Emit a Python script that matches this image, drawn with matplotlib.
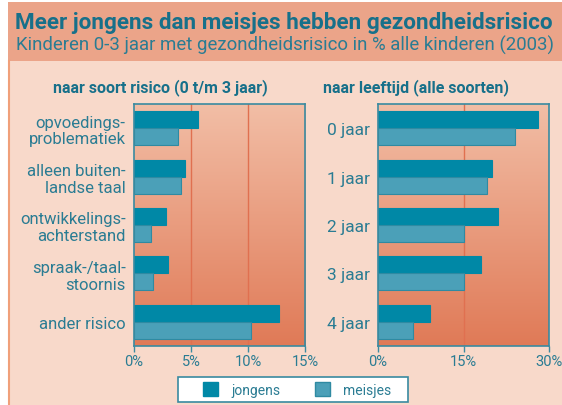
import numpy as np
import matplotlib
matplotlib.use("Agg")
import matplotlib.pyplot as plt
from matplotlib.patches import Rectangle, Patch
from matplotlib.colors import LinearSegmentedColormap

# ---------------- data ----------------
risk_labels = ["opvoedings-\nproblematiek", "alleen buiten-\nlandse taal", "ontwikkelings-\nachterstand",
               "spraak-/taal-\nstoornis", "ander risico"]
risk_boys = [5.6, 4.5, 2.8, 3.0, 12.7]
risk_girls = [3.9, 4.1, 1.5, 1.7, 10.3]

age_labels = ["0 jaar", "1 jaar", "2 jaar", "3 jaar", "4 jaar"]
age_boys = [28.1, 20.0, 21.0, 18.1, 9.1]
age_girls = [24.0, 19.1, 15.1, 15.0, 6.1]

risk_ticks = [0, 5, 10, 15]
age_ticks = [0, 15, 30]
tick_fmt = "{}%"

title = "Meer jongens dan meisjes hebben gezondheidsrisico"
subtitle = "Kinderen 0-3 jaar met gezondheidsrisico in % alle kinderen (2003)"
panel_titles = ["naar soort risico (0 t/m 3 jaar)", "naar leeftijd (alle soorten)"]
series_names = ["jongens", "meisjes"]

# ---------------- style ----------------
W, H = 562, 406
FONT = "Roboto"
C_BOY = "#0088A6"
C_GIRL = "#4BA0B8"
C_GIRL_EDGE = "#2F8AA2"
C_TEXT = "#2A7C93"
C_TITLE = "#17708A"
C_SPINE = "#3A8AA0"
C_GRID = "#E07050"
C_HEADER = "#EBA489"
C_BODY = "#F8D9CA"
C_BORDER = "#F0A07A"

fig = plt.figure(figsize=(W / 100, H / 100), dpi=100)
fig.patch.set_facecolor("white")

def fx(px):
    return px / W

def fy(py):
    return 1 - py / H

# backgrounds
fig.add_artist(Rectangle((fx(8), 0), 1 - fx(8), fy(62), transform=fig.transFigure,
                         facecolor=C_BODY, edgecolor="none", zorder=0))
fig.add_artist(Rectangle((fx(8), fy(62)), 1 - fx(8), fy(3) - fy(62), transform=fig.transFigure,
                         facecolor=C_HEADER, edgecolor="none", zorder=0))
fig.add_artist(plt.Line2D([fx(8.5), fx(8.5)], [0, fy(62)], transform=fig.transFigure,
                          color=C_BORDER, lw=1.5, zorder=1))

fig.text(fx(15), fy(22.5), title, fontsize=16.2, fontweight="bold", color=C_TITLE,
         family=FONT, va="center", ha="left")
fig.text(fx(16), fy(45.5), subtitle, fontsize=13.4, color=C_TEXT,
         family=FONT, va="center", ha="left")

grad_cmap = LinearSegmentedColormap.from_list("bg", ["#F2BEA6", "#E07A57"])

def panel(rect, labels, boys, girls, ticks, grid, ptitle, ptitle_x, label_fs):
    ax = fig.add_axes(rect)
    ax.set_facecolor("none")
    n = len(labels)
    y = np.arange(n)
    h = 0.35
    ax.barh(y - h / 2, boys, height=h, color=C_BOY, edgecolor=C_BOY, lw=0.8, zorder=3)
    ax.barh(y + h / 2, girls, height=h, color=C_GIRL, edgecolor=C_GIRL_EDGE, lw=0.8, zorder=3)
    ax.set_xlim(ticks[0], ticks[-1])
    ax.set_ylim(n - 0.5, -0.5)
    ax.imshow(np.linspace(0, 1, 256).reshape(-1, 1), cmap=grad_cmap, aspect="auto",
              extent=(ticks[0], ticks[-1], n - 0.5, -0.5), zorder=0, interpolation="bilinear")
    for g in grid:
        ax.axvline(g, color=C_GRID, lw=1.0, zorder=1)
    ax.set_xticks(ticks)
    ax.set_xticklabels([tick_fmt.format(t) for t in ticks], fontsize=10.5, color=C_TEXT, family=FONT)
    ax.tick_params(axis="x", direction="out", length=4, width=1, color=C_SPINE, pad=2)
    ax.set_yticks(y)
    ax.set_yticklabels(labels, fontsize=label_fs, color=C_TEXT, family=FONT, linespacing=1.15)
    ax.tick_params(axis="y", length=0, pad=6)
    for s in ax.spines.values():
        s.set_color(C_SPINE)
        s.set_linewidth(1.2)
        s.set_zorder(5)
    fig.text(ptitle_x, fy(88), ptitle, fontsize=11.5, fontweight="bold", color=C_TITLE,
             family=FONT, ha="center", va="center")
    return ax

ax_h = (347 - 105) / H
panel([fx(134), fy(347), fx(171), ax_h], risk_labels, risk_boys, risk_girls,
      risk_ticks, [5, 10], panel_titles[0], fx(160), 12)
panel([fx(378), fy(347), fx(171), ax_h], age_labels, age_boys, age_girls,
      age_ticks, [15], panel_titles[1], fx(416), 12.5)

# legend box
fig.add_artist(Rectangle((fx(178), fy(403)), fx(408) - fx(178), fy(378) - fy(403),
                         transform=fig.transFigure, facecolor="white", edgecolor=C_SPINE,
                         lw=1.2, zorder=2))
handles = [Patch(facecolor=C_BOY, edgecolor=C_BOY), Patch(facecolor=C_GIRL, edgecolor=C_GIRL_EDGE)]
leg = fig.legend(handles, series_names, loc="center", bbox_to_anchor=(fx(297), fy(390.5)),
                 ncol=2, frameon=False, handlelength=1.1,
                 handleheight=1.1, handletextpad=0.9, columnspacing=2.5, borderpad=0.2,
                 prop={"family": FONT, "size": 10})
leg.set_zorder(3)
for t in leg.get_texts():
    t.set_color(C_TEXT)

fig.savefig("out.png", dpi=100, facecolor=fig.get_facecolor())
